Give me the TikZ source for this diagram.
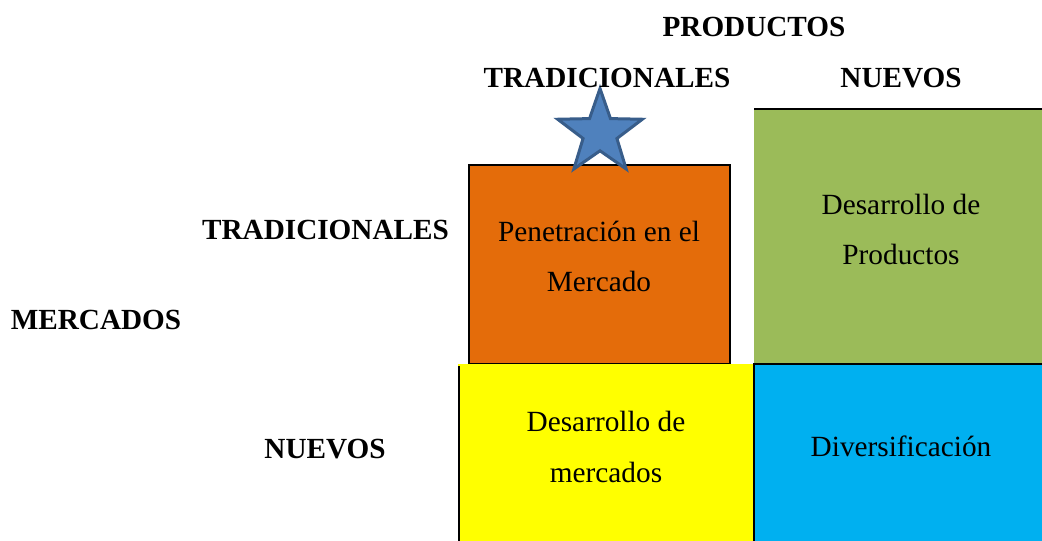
\documentclass[tikz,border=0pt]{standalone}
\usepackage{fontspec}
\setmainfont{Liberation Serif}
\usetikzlibrary{shapes.geometric}
\definecolor{naranja}{HTML}{E46C0A}
\definecolor{verde}{HTML}{9BBB59}
\definecolor{azul}{HTML}{00B0F0}
\definecolor{amarillo}{RGB}{255,255,0}
\definecolor{estrella}{HTML}{4F81BD}
\definecolor{estrellaborde}{HTML}{385D8A}
\tikzset{
  x=1pt,y=-1pt,
  head/.style={font=\fontsize{29.2}{30}\selectfont\bfseries,anchor=base,inner sep=0pt},
  celltext/.style={font=\fontsize{29.3}{50.5}\selectfont,align=center,inner sep=0pt},
  edge/.style={line width=2pt,black}
}
\begin{document}
\begin{tikzpicture}
\useasboundingbox (0,0) rectangle (1042,541);
% cells
\fill[verde] (754,109) rectangle (1042,364);
\draw[edge] (754,109) -- (1042,109);
\filldraw[naranja,draw=black,line width=2pt] (469,165) rectangle (730,363.5);
\fill[amarillo] (458,364) rectangle (754,541);
\draw[edge] (459,366) -- (459,541);
\fill[azul] (754,364.5) rectangle (1042,541);
\draw[edge] (753,364.3) -- (1042,364.3);
\draw[edge] (754,364) -- (754,541);
% star
\node[star,star points=5,star point ratio=2.5,draw=estrellaborde,fill=estrella,line width=3pt,miter limit=10,minimum size=89pt,inner sep=0pt] (estrella) at (600,133) {};
% headings
\node[head] (productos) at (754,36) {PRODUCTOS};
\node[head] (ptrad) at (607,87) {TRADICIONALES};
\node[head] (pnuevos) at (901,87) {NUEVOS};
\node[head] (mtrad) at (325.5,239) {TRADICIONALES};
\node[head] (mercados) at (96,329) {MERCADOS};
\node[head] (mnuevos) at (325,458) {NUEVOS};
% cell labels
\node[celltext] (penetracion) at (599,256.5) {Penetración en el\\Mercado};
\node[celltext] (desprod) at (901,229.5) {Desarrollo de\\Productos};
\node[celltext] (desmerc) at (606,447) {Desarrollo de\\mercados};
\node[celltext,anchor=base] (divers) at (901,456) {Diversificación};
\end{tikzpicture}
\end{document}
